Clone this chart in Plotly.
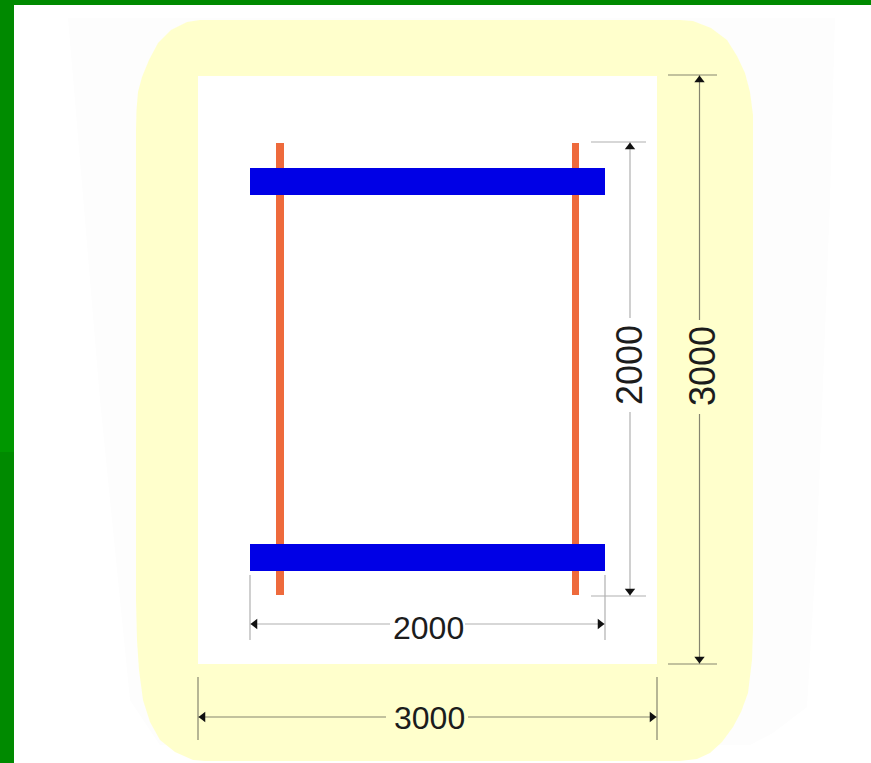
import plotly.graph_objects as go

WIDTH, HEIGHT = 871, 763

# Outlines (x to the right, y downward)
ghost_x = [68, 835, 830, 817, 807, 773, 750, 160, 130, 100, 85, 68]
ghost_y = [18, 18, 200, 540, 707, 733, 745, 745, 700, 400, 220, 18]
blob_x = [136, 136.5, 138, 142, 149, 158, 171, 187, 200, 680, 693, 711, 727, 737, 745, 750, 753,
          753, 752, 748, 741, 733, 722, 710, 697, 680, 205, 193, 175, 160, 150, 143, 139, 137, 136, 136]
blob_y = [130, 110, 92, 77, 60, 43, 30, 22, 20, 20, 21, 28, 40, 56, 73, 92, 115,
          630, 660, 693, 712, 727, 742, 753, 759, 761, 761, 760, 752, 740, 722, 700, 670, 640, 600, 130]
inner_x = [198, 657, 657, 198, 198]
inner_y = [76, 76, 664, 664, 76]
top_bar_x = [0, 871, 871, 0, 0]
top_bar_y = [0, 0, 5, 5, 0]
side_bar_x = [0, 14, 14, 0, 0]
side_band_edges = [0, 90, 180, 270, 360, 452, 763]
side_band_colors = ["#008900", "#008c00", "#008f00", "#009200", "#009700", "#008a00"]

post_left_x = [276, 284, 284, 276, 276]
post_right_x = [572, 579, 579, 572, 572]
post_y = [143, 143, 595, 595, 143]
beam_x = [250, 605, 605, 250, 250]
beam_top_y = [168, 168, 195, 195, 168]
beam_bottom_y = [544, 544, 571, 571, 544]

# Dimension lines: (x list, y list)
line_color_light = "#b0b0b0"
line_color_dark = "#85856f"
dim_light = [
    ([591, 646], [142, 142]), ([591, 646], [596, 596]),
    ([630, 630], [142, 318]), ([630, 630], [412, 596]),
    ([250, 250], [575, 640]), ([605, 605], [575, 640]),
    ([250, 390], [624, 624]), ([465, 605], [624, 624]),
]
dim_dark = [
    ([668, 717], [75, 75]), ([668, 717], [664, 664]),
    ([699.5, 699.5], [75, 320]), ([699.5, 699.5], [414, 664]),
    ([198, 198], [677, 740]), ([657, 657], [677, 740]),
    ([198, 386], [717, 717]), ([468, 657], [717, 717]),
]
arrow_up_x, arrow_up_y = [630, 699.5], [147, 80]
arrow_down_x, arrow_down_y = [630, 699.5], [591, 659]
arrow_left_x, arrow_left_y = [255, 203], [624, 717]
arrow_right_x, arrow_right_y = [600, 652], [624, 717]

labels = ["2000", "3000", "2000", "3000"]
label_x = [428, 429, 629, 702]
label_y = [628, 718, 365, 366]
label_angle = [0, 0, -90, -90]
label_size = [32, 32, 36, 36]

fig = go.Figure()


def poly(x, y, color):
    fig.add_trace(go.Scatter(
        x=x, y=y, mode="lines", fill="toself", fillcolor=color,
        line=dict(color=color, width=0),
        hoverinfo="skip", showlegend=False))


poly(ghost_x, ghost_y, "#fdfdfd")
poly(blob_x, blob_y, "#ffffcc")
poly(inner_x, inner_y, "#ffffff")
poly(top_bar_x, top_bar_y, "#008a00")
for i, c in enumerate(side_band_colors):
    y0, y1 = side_band_edges[i], side_band_edges[i + 1]
    poly(side_bar_x, [y0, y0, y1, y1, y0], c)
poly(post_left_x, post_y, "#ee6a3c")
poly(post_right_x, post_y, "#ee6a3c")
poly(beam_x, beam_top_y, "#0000e6")
poly(beam_x, beam_bottom_y, "#0000e6")

for segs, c in ((dim_light, line_color_light), (dim_dark, line_color_dark)):
    for x, y in segs:
        fig.add_trace(go.Scatter(x=x, y=y, mode="lines", line=dict(color=c, width=1.2),
                                 hoverinfo="skip", showlegend=False))

for x, y, sym in ((arrow_up_x, arrow_up_y, "triangle-up"), (arrow_down_x, arrow_down_y, "triangle-down"),
                  (arrow_left_x, arrow_left_y, "triangle-left"), (arrow_right_x, arrow_right_y, "triangle-right")):
    fig.add_trace(go.Scatter(x=x, y=y, mode="markers",
                             marker=dict(symbol=sym, size=9, color="#111111"),
                             hoverinfo="skip", showlegend=False))

for t, x, y, a, s in zip(labels, label_x, label_y, label_angle, label_size):
    fig.add_annotation(x=x, y=y, text=t, showarrow=False, textangle=a,
                       font=dict(family="Liberation Sans", size=s, color="#1c1c1c"))

fig.update_layout(
    width=WIDTH, height=HEIGHT,
    margin=dict(l=0, r=0, t=0, b=0),
    paper_bgcolor="#ffffff", plot_bgcolor="#ffffff",
    xaxis=dict(range=[0, WIDTH], visible=False, fixedrange=True),
    yaxis=dict(range=[HEIGHT, 0], visible=False, fixedrange=True),
    showlegend=False,
)

fig.write_html("out.html", config={"displayModeBar": False},
               post_script="document.body.style.margin='0';")
